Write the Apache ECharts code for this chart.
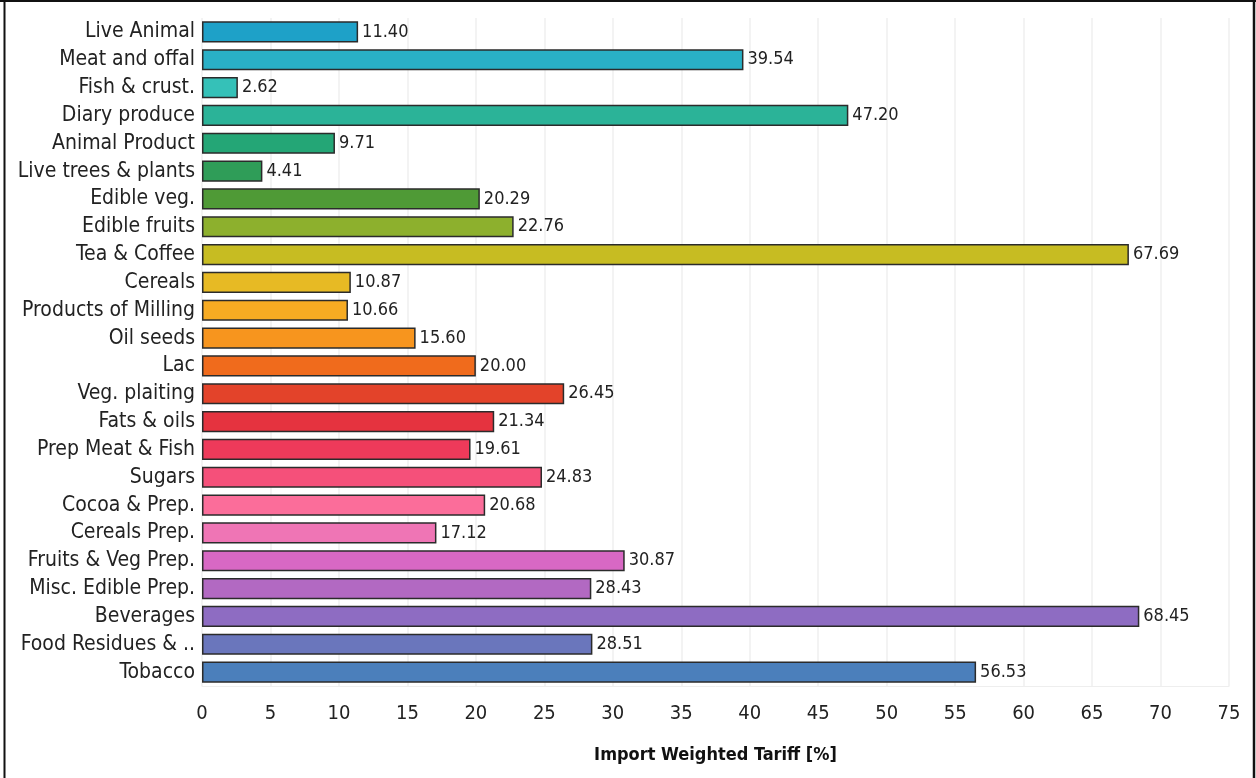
<!DOCTYPE html>
<html>
<head>
<meta charset="utf-8">
<script src="https://cdn.jsdelivr.net/npm/echarts@6/dist/echarts.min.js"></script>
<style>
  html, body { margin: 0; padding: 0; background: #fff; }
  #chart { width: 1256px; height: 778px; }
</style>
</head>
<body>
<div id="chart"></div>
<script>
// Product groups, top to bottom
const categories = [
  'Live Animal', 'Meat and offal', 'Fish & crust.', 'Diary produce', 'Animal Product',
  'Live trees & plants', 'Edible veg.', 'Edible fruits', 'Tea & Coffee', 'Cereals',
  'Products of Milling', 'Oil seeds', 'Lac', 'Veg. plaiting', 'Fats & oils',
  'Prep Meat & Fish', 'Sugars', 'Cocoa & Prep.', 'Cereals Prep.', 'Fruits & Veg Prep.',
  'Misc. Edible Prep.', 'Beverages', 'Food Residues & ..', 'Tobacco'
];

// Import weighted tariff, percent
const tariffs = [
  11.40, 39.54, 2.62, 47.20, 9.71,
  4.41, 20.29, 22.76, 67.69, 10.87,
  10.66, 15.60, 20.00, 26.45, 21.34,
  19.61, 24.83, 20.68, 17.12, 30.87,
  28.43, 68.45, 28.51, 56.53
];

const barColors = [
  '#1ea1c8', '#29b0c6', '#35c1b8', '#2bb398', '#24a676',
  '#2f9d58', '#4f9a36', '#8db02d', '#c7bc22', '#e7ba24',
  '#f7ab22', '#f7951e', '#f06b1c', '#e3432a', '#e5333f',
  '#ee3a5a', '#f5507a', '#fb6d9a', '#ef75b5', '#d868c4',
  '#b269c2', '#8e6cc2', '#6a76bc', '#4b7fbb'
];

const FONT = '"Liberation Sans Narrow", "DejaVu Sans Condensed", "Noto Sans", sans-serif';

const chart = echarts.init(document.getElementById('chart'), null, { renderer: 'canvas' });

chart.setOption({
  animation: false,
  backgroundColor: '#fff',
  grid: { left: 202, right: 27, top: 18, bottom: 92, containLabel: false },
  xAxis: {
    type: 'value',
    min: 0,
    max: 75,
    interval: 5,
    name: 'Import Weighted Tariff [%]',
    nameLocation: 'middle',
    nameGap: 60,
    nameTextStyle: { fontFamily: FONT, fontSize: 18, fontWeight: 'bold', color: '#111' },
    axisLine: { show: true, lineStyle: { color: '#eeeeee', width: 1 } },
    axisTick: { show: false },
    axisLabel: { fontFamily: FONT, fontSize: 20, color: '#222', margin: 18 },
    splitLine: { show: true, lineStyle: { color: '#efefef', width: 1.5 } }
  },
  yAxis: {
    type: 'category',
    data: categories,
    inverse: true,
    axisLine: { show: false },
    axisTick: { show: false },
    axisLabel: { fontFamily: FONT, fontSize: 21, color: '#222', margin: 7 }
  },
  series: [{
    type: 'bar',
    data: tariffs.map((v, i) => ({ value: v, itemStyle: { color: barColors[i] } })),
    barCategoryGap: '24%',
    itemStyle: { borderColor: '#2b2b2b', borderWidth: 1.5 },
    label: {
      show: true,
      position: 'right',
      distance: 4,
      fontFamily: FONT,
      fontSize: 18,
      color: '#222',
      formatter: p => p.value.toFixed(2)
    }
  }],
  graphic: [
    // frame around the figure (left, top, right edges)
    { type: 'line', shape: { x1: 4.5, y1: 0, x2: 4.5, y2: 778 }, style: { stroke: '#111', lineWidth: 2 } },
    { type: 'line', shape: { x1: 0, y1: 1, x2: 1256, y2: 1 }, style: { stroke: '#111', lineWidth: 2 } },
    { type: 'line', shape: { x1: 1254, y1: 0, x2: 1254, y2: 778 }, style: { stroke: '#111', lineWidth: 2.5 } }
  ]
});
</script>
</body>
</html>
